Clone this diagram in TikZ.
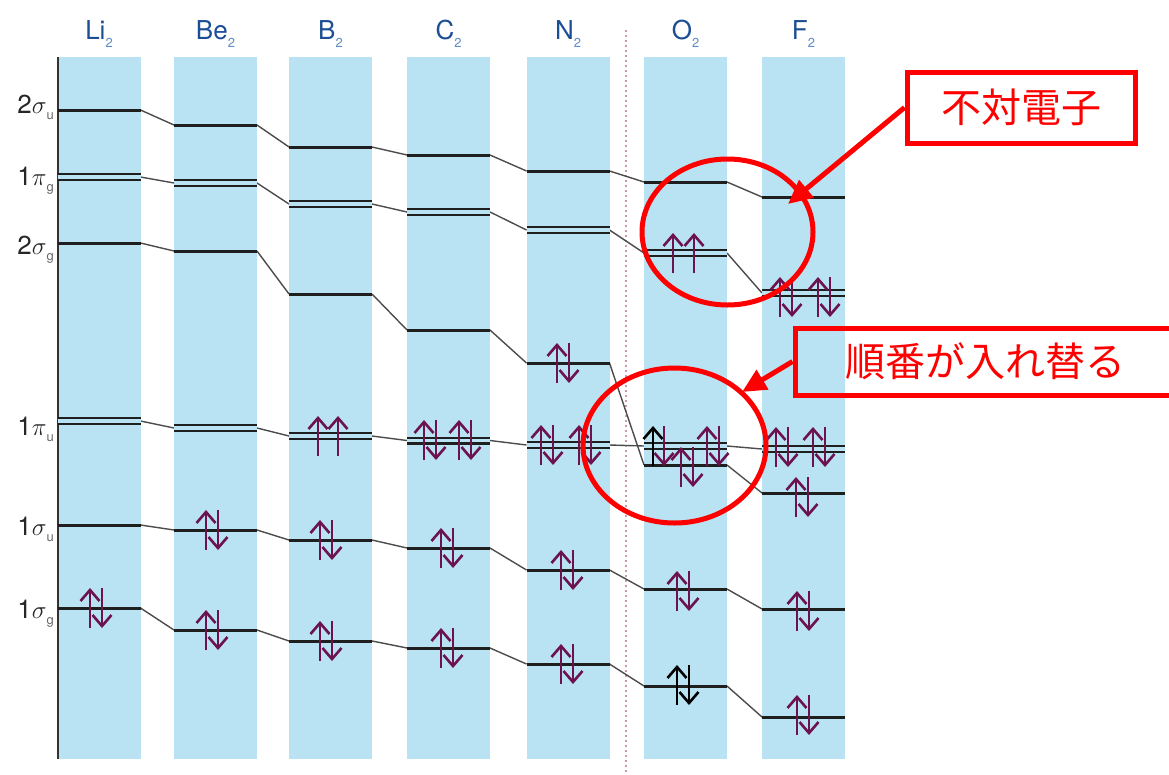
\documentclass[tikz,border=0pt]{standalone}
\usepackage{fontspec}
\setmainfont{TeX Gyre Heros}
\newfontfamily\jpfont{Noto Sans CJK JP}
\usetikzlibrary{arrows.meta}
\definecolor{colbg}{RGB}{185,226,242}
\definecolor{labblue}{RGB}{28,78,150}
\definecolor{subblue}{RGB}{95,140,200}
\definecolor{elec}{RGB}{108,18,78}
\definecolor{divline}{RGB}{205,150,170}
\newcommand{\lowsub}[2]{\raisebox{-#1}{\fontsize{13}{13}\selectfont #2}}
\tikzset{
  mol/.style={font=\fontsize{26}{30}\selectfont, text=labblue, anchor=base, inner sep=0pt},
  orb/.style={font=\fontsize{26}{30}\selectfont, text=black!85, anchor=base east, inner sep=0pt},
  lvl/.style={minimum width=83pt, minimum height=0pt, inner sep=0pt, outer sep=0pt},
  levelline/.style={line width=3pt, draw=black!88},
  pilevel/.style={line width=2.4pt, draw=black!88, double=colbg, double distance=3.2pt},
  link/.style={line width=1.4pt, draw=black!70},
  spin/.style={line width=2.6pt, color=elec, -{Straight Barb[length=11pt,width=19pt]}},
  eup/.pic={\draw[spin,#1] (0,20) -- (0,-20);},
  eup/.default={},
  edown/.pic={\draw[spin,#1] (0,-20) -- (0,20);},
  edown/.default={},
  epair/.pic={\draw[spin,#1] (-6,20) -- (-6,-20); \draw[spin,#1] (6,-20) -- (6,20);},
  epair/.default={},
  note/.style={draw=red, line width=5pt, text=red, font=\jpfont\fontsize{40}{48}\selectfont, inner sep=0pt},
  callout/.style={draw=red, line width=5pt, -{Triangle[length=24pt,width=22pt]}}
}
\begin{document}
\begin{tikzpicture}[x=1pt, y=-1pt]
\clip (0,0) rectangle (1169,774);
\fill[white] (0,0) rectangle (1169,774);
% columns
\foreach \x in {99,215.5,330.5,448.5,568,685.5,803.5}
  \fill[colbg] (\x-41.5,57) rectangle (\x+41.5,759);
\draw[line width=2pt, black!80] (58,57) -- (58,759);
\draw[divline, line width=2pt, dash pattern=on 2pt off 3pt] (626,30) -- (626,774);
% molecule names
\begin{scope}[every node/.style={mol}]
\node (m1) at (99,39) {Li\textcolor{subblue}{\lowsub{8pt}{2}}};
\node (m2) at (215.5,39) {Be\textcolor{subblue}{\lowsub{8pt}{2}}};
\node (m3) at (330.5,39) {B\textcolor{subblue}{\lowsub{8pt}{2}}};
\node (m4) at (448.5,39) {C\textcolor{subblue}{\lowsub{8pt}{2}}};
\node (m5) at (568,39) {N\textcolor{subblue}{\lowsub{8pt}{2}}};
\node (m6) at (685.5,39) {O\textcolor{subblue}{\lowsub{8pt}{2}}};
\node (m7) at (803.5,39) {F\textcolor{subblue}{\lowsub{8pt}{2}}};
\end{scope}
% orbital names
\begin{scope}[every node/.style={orb}]
\node (o1) at (54,113) {2$\sigma$\textcolor{black!60}{\lowsub{6pt}{u}}};
\node (o2) at (54,185) {1$\pi$\textcolor{black!60}{\lowsub{6pt}{g}}};
\node (o3) at (54,254) {2$\sigma$\textcolor{black!60}{\lowsub{6pt}{g}}};
\node (o4) at (54,435) {1$\pi$\textcolor{black!60}{\lowsub{6pt}{u}}};
\node (o5) at (54,535) {1$\sigma$\textcolor{black!60}{\lowsub{6pt}{u}}};
\node (o6) at (54,618) {1$\sigma$\textcolor{black!60}{\lowsub{6pt}{g}}};
\end{scope}
% levels
\foreach \m/\x/\a/\b/\c/\d/\e/\f in {li/99/110/177/243/421/525/608,
    be/215.5/125/183/251/428/530/630, b/330.5/147/204/294/436/540/641,
    c/448.5/155/212/330/440.5/548/648, n/568/171/230/363/445/570/664,
    o/685.5/182/253/465/446/589/686, f/803.5/197/293/493/449/609/717}{
  \node[lvl] (\m-su2) at (\x,\a) {};
  \node[lvl] (\m-pg) at (\x,\b) {};
  \node[lvl] (\m-sg2) at (\x,\c) {};
  \node[lvl] (\m-pu) at (\x,\d) {};
  \node[lvl] (\m-su1) at (\x,\e) {};
  \node[lvl] (\m-sg1) at (\x,\f) {};
}
\foreach \p/\q in {li/be,be/b,b/c,c/n,n/o,o/f}
  \foreach \l in {su2,pg,sg2,pu,su1,sg1}
    \draw[link] (\p-\l.east) -- (\q-\l.west);
\foreach \m in {li,be,b,c,n,o,f}{
  \foreach \l in {su2,sg2,su1,sg1} \draw[levelline] (\m-\l.west) -- (\m-\l.east);
  \foreach \l in {pg,pu} \draw[pilevel] (\m-\l.west) -- (\m-\l.east);
}
% electrons
\pic at (96,608) {epair};
\pic at (212,530) {epair};
\pic at (212,630) {epair};
\pic at (326,540) {epair};
\pic at (326,641) {epair};
\pic at (318,436) {eup};
\pic at (338,436) {eup};
\pic at (447,548) {epair};
\pic at (447,648) {epair};
\pic at (430,440) {epair};
\pic at (465,440) {epair};
\pic at (563,363) {epair};
\pic at (567,570) {epair};
\pic at (567,664) {epair};
\pic at (547,445) {epair};
\pic at (585,445) {epair};
\pic at (673,253) {eup};
\pic at (694,253) {eup};
\pic at (653,446) {eup=black};
\pic at (664,446) {edown};
\pic at (713,446) {epair};
\pic at (687,467) {epair};
\pic at (683,591) {epair};
\pic at (683,685) {epair=black};
\pic at (786,297) {epair};
\pic at (824,297) {epair};
\pic at (782,447) {epair};
\pic at (819,447) {epair};
\pic at (802,497) {epair};
\pic at (803,611) {epair};
\pic at (803,715) {epair};
% notes
\draw[red, line width=5pt] (727.5,232) ellipse [x radius=85.5pt, y radius=73pt];
\draw[red, line width=5pt] (674.5,445.5) ellipse [x radius=91.5pt, y radius=77.5pt];
\node[note, minimum width=228pt, minimum height=71pt] (unpaired) at (1021,107.5) {不対電子};
\node[note, minimum width=380pt, minimum height=67pt] (swap) at (985,361.5) {順番が入れ替る};
\coordinate (t1) at (788,204);
\coordinate (t2) at (742,392);
\draw[callout] (unpaired.west) -- (t1);
\draw[callout] (swap.west) -- (t2);
\end{tikzpicture}
\end{document}
